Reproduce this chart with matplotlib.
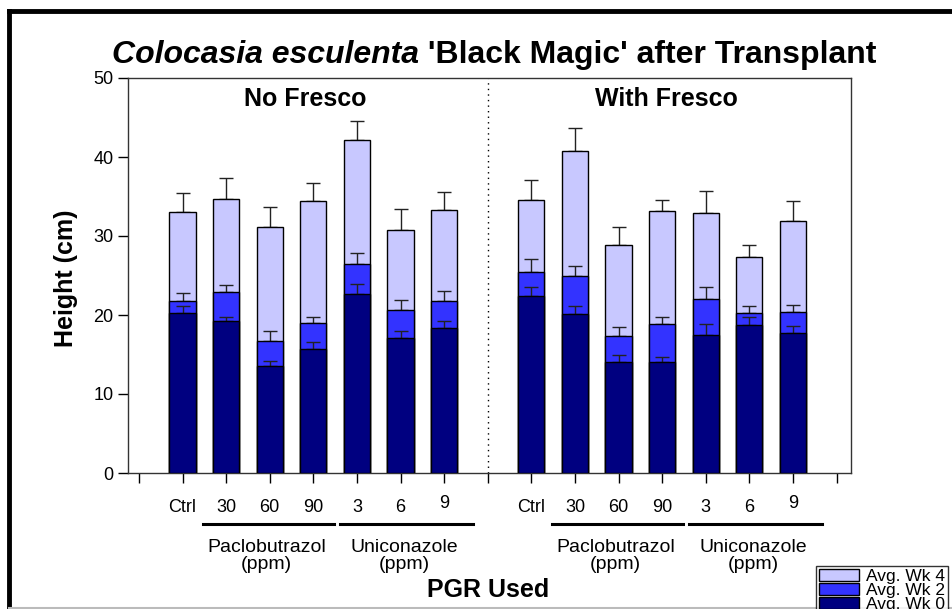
import matplotlib
matplotlib.use("Agg")
import matplotlib.pyplot as plt
import matplotlib.transforms as mtransforms
from matplotlib.patches import Patch
from matplotlib.lines import Line2D
import numpy as np

plt.rcParams['font.family'] = ['Liberation Sans', 'DejaVu Sans']

# ---------------- data ----------------
tick_labels = ["Ctrl", "30", "60", "90", "3", "6", "9"]
groups = ["No Fresco", "With Fresco"]
chem_groups = ["Paclobutrazol\n(ppm)", "Uniconazole\n(ppm)"]

# heights (cm), order: No Fresco (Ctrl,30,60,90,3,6,9) then With Fresco
wk4 = [33.0, 34.7, 31.2, 34.4, 42.1, 30.8, 33.3,
       34.5, 40.7, 28.8, 33.2, 32.9, 27.4, 31.9]
wk2 = [21.8, 22.9, 16.7, 19.0, 26.5, 20.6, 21.8,
       25.4, 25.0, 17.4, 18.8, 22.0, 20.3, 20.4]
wk0 = [20.3, 19.2, 13.5, 15.7, 22.6, 17.1, 18.3,
       22.4, 20.1, 14.1, 14.0, 17.5, 18.7, 17.7]
# standard errors (upper only)
wk4_err = [2.5, 2.6, 2.5, 2.3, 2.5, 2.6, 2.3,
           2.6, 3.0, 2.4, 1.4, 2.8, 1.4, 2.5]
wk2_err = [1.0, 0.9, 1.3, 0.8, 1.3, 1.3, 1.3,
           1.7, 1.2, 1.1, 0.9, 1.6, 0.9, 0.9]
wk0_err = [0.8, 0.6, 0.7, 0.9, 1.3, 0.9, 0.9,
           1.2, 1.0, 0.8, 0.7, 1.4, 1.0, 0.9]

series_names = ["Avg. Wk 4", "Avg. Wk 2", "Avg. Wk 0"]
colors = ["#C8C8FF", "#3333FF", "#000080"]

# ---------------- figure ----------------
W, H = 953, 609
fig = plt.figure(figsize=(W / 100, H / 100), dpi=100)

def fx(px):
    return px / W

def fy(py):
    return 1 - py / H

ax = fig.add_axes([fx(128), fy(473), fx(851) - fx(128), fy(78) - fy(473)])

pos = np.array(list(range(1, 8)) + list(range(9, 16)), dtype=float)
bw = 0.6
for vals, errs, col, name, z in [(wk4, wk4_err, colors[0], series_names[0], 2),
                                 (wk2, wk2_err, colors[1], series_names[1], 3),
                                 (wk0, wk0_err, colors[2], series_names[2], 4)]:
    ax.bar(pos, vals, width=bw, color=col, edgecolor="black", linewidth=1.0,
           zorder=z, label=name)
    ax.errorbar(pos, vals, yerr=[np.zeros(len(vals)), errs], fmt="none",
                ecolor="#222222", elinewidth=1.0, capsize=5, capthick=1.0,
                zorder=z - 0.5)

ax.set_xlim(-0.25, 16.33)
ax.set_ylim(0, 50)
ax.set_yticks([0, 10, 20, 30, 40, 50])
ax.set_xticks(np.arange(0, 17))
ax.set_xticklabels([])
ax.tick_params(axis="both", direction="out", length=7, width=1, colors="black",
               labelsize=13)
for s in ax.spines.values():
    s.set_linewidth(1.0)
    s.set_color("#333333")
ax.axvline(8, color="black", linestyle=(0, (1, 3)), linewidth=1.0, zorder=1)

trans = mtransforms.blended_transform_factory(ax.transData, fig.transFigure)
group_centers_px = [305, 666]
for gi in range(2):
    base = 1 + gi * 8
    for i, lab in enumerate(tick_labels):
        yy = fy(507) if lab != "9" else fy(504)
        ax.text(base + i, yy, lab, transform=trans, ha="center", va="center",
                fontsize=13)
    # group underlines and chemical names
    for (a, b), name in zip([(0.47, 3.48), (3.62, 6.67)], chem_groups):
        ax.add_line(Line2D([base + a, base + b], [fy(524), fy(524)],
                           transform=trans, color="black", linewidth=2.2,
                           clip_on=False))
        ax.text(base + (a + b) / 2 - 0.05, fy(556), name, transform=trans,
                ha="center", va="center", fontsize=14, linespacing=1.0)
    fig.text(fx(group_centers_px[gi]), fy(99), groups[gi], ha="center",
             va="center", fontsize=18, fontweight="bold")

fig.text(fx(66), fy(278), "Height (cm)", rotation=90, ha="center",
         va="center", fontsize=18, fontweight="bold")
fig.text(fx(488), fy(590), "PGR Used", ha="center", va="center",
         fontsize=18, fontweight="bold")

# title with mixed italic
fig.canvas.draw()
r = fig.canvas.get_renderer()
t1 = fig.text(fx(112), fy(63), "Colocasia esculenta", fontsize=23,
              fontweight="bold", style="italic", ha="left", va="baseline")
bb = t1.get_window_extent(renderer=r)
fig.text(bb.x1 / W, fy(63), " 'Black Magic' after Transplant", fontsize=23,
         fontweight="bold", ha="left", va="baseline")

# legend (clipped by the figure edge like the original)
handles = [Patch(facecolor=c, edgecolor="black", linewidth=1.0) for c in colors]
leg = fig.legend(handles, series_names, loc="upper left",
                 bbox_to_anchor=(fx(816), fy(566)), fontsize=12.5,
                 frameon=True, fancybox=False, edgecolor="black",
                 handlelength=2.3, handleheight=0.7, labelspacing=-0.05,
                 borderpad=0.15, handletextpad=0.45, borderaxespad=0)
leg.get_frame().set_linewidth(1.0)

# outer frame
fig.add_artist(Line2D([fx(9), fx(9)], [fy(11), fy(607)], color="black",
                      linewidth=3.5, transform=fig.transFigure))
fig.add_artist(Line2D([fx(9), 1.0], [fy(11), fy(11)], color="black",
                      linewidth=3.5, transform=fig.transFigure))
fig.add_artist(Line2D([fx(9), 1.0], [fy(607.5), fy(607.5)], color="#BBBBBB",
                      linewidth=1.5, transform=fig.transFigure))

fig.savefig("out.png", dpi=100)
